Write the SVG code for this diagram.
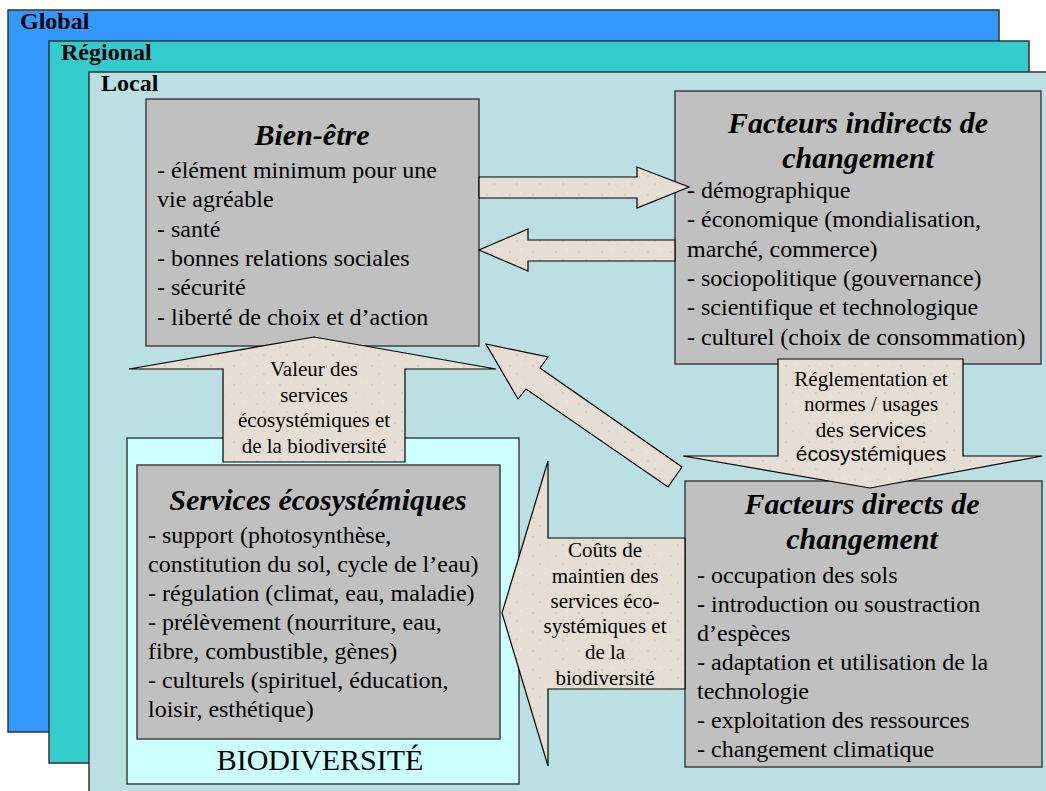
<svg xmlns="http://www.w3.org/2000/svg" width="1046" height="791" viewBox="0 0 1046 791" font-family="Liberation Serif, Times New Roman, serif">
<style>
.lvl{stroke:#333;stroke-width:1.5}
.lvlt{font-weight:bold;font-size:24px;fill:#000}
.box{fill:#C0C0C0;stroke:#404040;stroke-width:1.5}
.ttl{font-family:"Liberation Serif","Times New Roman",serif;font-weight:bold;font-style:italic;font-size:30px;fill:#000;text-anchor:middle}
.bd{font-size:24px;fill:#000;text-anchor:start}
.bio{font-family:"Liberation Serif","Times New Roman",serif;font-size:30px;fill:#000;text-anchor:middle}
.arr{fill:url(#speckle);stroke:#000;stroke-width:1.2;stroke-linejoin:miter}
.al{font-family:"Liberation Serif","Times New Roman",serif;font-size:21px;fill:#000;text-anchor:middle}
.sans{font-family:"Liberation Sans",Arial,sans-serif}
</style>
<defs>
<pattern id="speckle" patternUnits="userSpaceOnUse" width="23" height="19">
<rect width="23" height="19" fill="#E6DED4"/>
<circle cx="4" cy="5" r="0.9" fill="#D3C9BD"/>
<circle cx="15" cy="3" r="0.7" fill="#F2ECE4"/>
<circle cx="11" cy="13" r="1" fill="#D6CCC0"/>
<circle cx="19" cy="15" r="0.7" fill="#DCD3C8"/>
<circle cx="2" cy="16" r="0.6" fill="#F0EAE2"/>
</pattern>
</defs>
<rect width="1046" height="791" fill="#FFFFFF"/>
<g id="level-global" font-family="Liberation Serif, serif">
<rect class="lvl" x="8" y="10" width="991" height="722" fill="#3399FF"/>
<text class="lvlt" x="20" y="29">Global</text>
</g>
<g id="level-regional" font-family="Liberation Serif, serif">
<rect class="lvl" x="49" y="41" width="980" height="722" fill="#33CCCC"/>
<text class="lvlt" x="61" y="60">Régional</text>
</g>
<g id="level-local" font-family="Liberation Serif, serif">
<rect class="lvl" x="89" y="72" width="970" height="730" fill="#BAE0E3"/>
<text class="lvlt" x="101" y="91">Local</text>
</g>
<g id="bien-etre" font-family="Liberation Serif, serif">
<rect class="box" x="146" y="99" width="333" height="247"/>
<text class="ttl" x="312" y="145">Bien-être</text>
<text class="bd" x="157" y="178">- élément minimum pour une</text>
<text class="bd" x="157" y="207">vie agréable</text>
<text class="bd" x="157" y="237">- santé</text>
<text class="bd" x="157" y="266">- bonnes relations sociales</text>
<text class="bd" x="157" y="295">- sécurité</text>
<text class="bd" x="157" y="325">- liberté de choix et d’action</text>
</g>
<g id="facteurs-indirects" font-family="Liberation Serif, serif">
<rect class="box" x="675" y="91" width="366" height="273"/>
<text class="ttl" x="858" y="133">Facteurs indirects de</text>
<text class="ttl" x="858" y="168">changement</text>
<text class="bd" x="687" y="198">- démographique</text>
<text class="bd" x="687" y="227">- économique (mondialisation,</text>
<text class="bd" x="687" y="257">marché, commerce)</text>
<text class="bd" x="687" y="286">- sociopolitique (gouvernance)</text>
<text class="bd" x="687" y="315">- scientifique et technologique</text>
<text class="bd" x="687" y="345">- culturel (choix de consommation)</text>
</g>
<g id="biodiversite">
<rect x="127" y="438" width="392" height="346" fill="#CCFFFF" stroke="#404040" stroke-width="1.5"/>
<text class="bio" x="320" y="770">BIODIVERSITÉ</text>
</g>
<g id="services-ecosystemiques" font-family="Liberation Serif, serif">
<rect class="box" x="137" y="465" width="363" height="274"/>
<text class="ttl" x="318" y="510">Services écosystémiques</text>
<text class="bd" x="148" y="543">- support (photosynthèse,</text>
<text class="bd" x="148" y="572">constitution du sol, cycle de l’eau)</text>
<text class="bd" x="148" y="601">- régulation (climat, eau, maladie)</text>
<text class="bd" x="148" y="630">- prélèvement (nourriture, eau,</text>
<text class="bd" x="148" y="659">fibre, combustible, gènes)</text>
<text class="bd" x="148" y="688">- culturels (spirituel, éducation,</text>
<text class="bd" x="148" y="717">loisir, esthétique)</text>
</g>
<g id="facteurs-directs" font-family="Liberation Serif, serif">
<rect class="box" x="685" y="481" width="357" height="286"/>
<text class="ttl" x="862" y="514">Facteurs directs de</text>
<text class="ttl" x="862" y="549">changement</text>
<text class="bd" x="697" y="583">- occupation des sols</text>
<text class="bd" x="697" y="612">- introduction ou soustraction</text>
<text class="bd" x="697" y="641">d’espèces</text>
<text class="bd" x="697" y="670">- adaptation et utilisation de la</text>
<text class="bd" x="697" y="699">technologie</text>
<text class="bd" x="697" y="728">- exploitation des ressources</text>
<text class="bd" x="697" y="757">- changement climatique</text>
</g>
<g id="connectors">
<g id="arrow-bien-etre-indirects">
<polygon class="arr" points="479,177 637,177 637,167 689,187 637,208 637,198 479,198"/>
</g>
<g id="arrow-indirects-bien-etre">
<polygon class="arr" points="675,240 528,240 528,229 479,250 528,271 528,261 675,261"/>
</g>
<g id="arrow-valeur">
<polygon class="arr" points="314,337 496,369 405,369 405,462 223,462 223,369 129,369"/>
<text class="al" x="314" y="376">Valeur des</text>
<text class="al" x="314" y="402">services</text>
<text class="al" x="314" y="427">écosystémiques et</text>
<text class="al" x="314" y="453">de la biodiversité</text>
</g>
<g id="arrow-reglementation">
<polygon class="arr" points="778,359 963,359 963,456 1042,456 870,488 683,456 778,456"/>
<text class="al" x="871" y="386">Réglementation et</text>
<text class="al" x="871" y="411">normes / usages</text>
<text class="al" x="871" y="437">des <tspan class="sans">services</tspan></text>
<text class="al sans" x="871" y="461">écosystémiques</text>
</g>
<g id="arrow-directs-bien-etre">
<polygon class="arr" points="486,344 548,357 540,368 682,467 668,487 526,389 518,399"/>
</g>
<g id="arrow-couts">
<polygon class="arr" points="685,538 548,538 548,461 502,613 548,766 548,689 685,689"/>
<text class="al" x="605" y="557">Coûts de</text>
<text class="al" x="605" y="583">maintien des</text>
<text class="al" x="605" y="608">services éco-</text>
<text class="al" x="605" y="633">systémiques et</text>
<text class="al" x="605" y="659">de la</text>
<text class="al" x="605" y="685">biodiversité</text>
</g>
</g>
</svg>
